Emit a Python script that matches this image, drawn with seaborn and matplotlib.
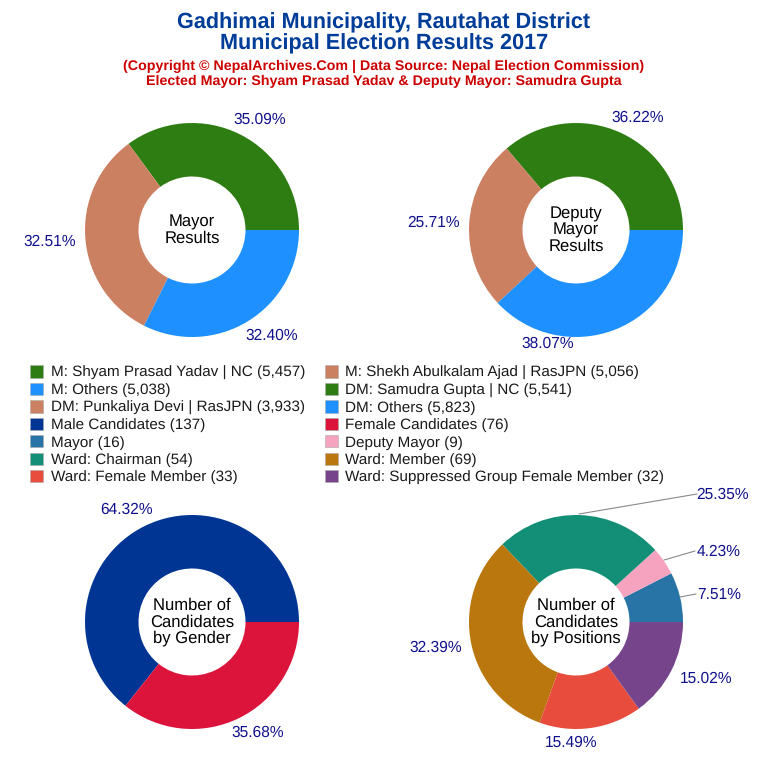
import numpy as np
import seaborn as sns
import matplotlib.pyplot as plt
from matplotlib.patches import Patch

sns.set_theme(style="white")
plt.rcParams["font.family"] = ["Liberation Sans", "DejaVu Sans"]
plt.rcParams["text.hinting"] = "no_hinting"

# values
mayor_names = ["M: Shyam Prasad Yadav | NC", "M: Shekh Abulkalam Ajad | RasJPN", "M: Others"]
mayor_votes = [5457, 5056, 5038]
deputy_names = ["DM: Samudra Gupta | NC", "DM: Punkaliya Devi | RasJPN", "DM: Others"]
deputy_votes = [5541, 3933, 5823]
gender_names = ["Male Candidates", "Female Candidates"]
gender_counts = [137, 76]
position_names = ["Mayor", "Deputy Mayor", "Ward: Chairman", "Ward: Member", "Ward: Female Member",
                  "Ward: Suppressed Group Female Member"]
position_counts = [16, 9, 54, 69, 33, 32]

# colours
vote_colors = sns.color_palette(["#2E7D12", "#CC8062", "#1E90FF"])
gender_colors = sns.color_palette(["#003594", "#DC143C"])
position_colors = sns.color_palette(["#2874A6", "#F5A3BF", "#148F77", "#B9770E", "#E74C3C", "#76448A"])

W = 768.0
CENTERS = [(192, 230), (576, 230), (192, 622), (576, 622)]
RADIUS = 107.0
PCT_COLOR = "#10108C"

# label centres relative to pie centre, in px (dx, dy down)
mayor_lab = [(68, -110), (-142, 12), (80, 106)]
deputy_lab = [(62, -112), (-142, -7), (-28, 114)]
gender_lab = [(-65, -112), (66, 111)]
position_lab = [(143, -27), (143, -70), (147, -127), (-140, 26), (-5, 121), (130, 57)]
# leader lines for the small labels, px from centre
leaders = {0: ((120, -28), (104, -25)), 1: ((119, -71), (88, -62)), 2: ((121, -128), (3, -108))}

fig = plt.figure(figsize=(W / 100, W / 100), dpi=100)
fig.patch.set_facecolor("white")


def donut(idx, values, colors, lab_pos, center_text, lines=None):
    cx, cy = CENTERS[idx]
    box = 170.0  # half size of axes in px
    ax = fig.add_axes([(cx - box) / W, 1 - (cy + box) / W, 2 * box / W, 2 * box / W])
    ax.pie(values, colors=colors, startangle=0, counterclock=True, radius=RADIUS,
           wedgeprops=dict(width=RADIUS * 0.5, linewidth=0))
    ax.set_xlim(-box, box)
    ax.set_ylim(-box, box)
    ax.set_aspect("equal")
    ax.axis("off")
    ax.patch.set_alpha(0)
    total = float(np.sum(values))
    for v, (dx, dy) in zip(values, lab_pos):
        ax.text(dx, -dy, f"{v / total * 100:.2f}%", color=PCT_COLOR, fontsize=11.2,
                ha="center", va="center", clip_on=False)
    if lines:
        for (x0, y0), (x1, y1) in lines.values():
            ax.plot([x0, x1], [-y0, -y1], color="#8a8a8a", lw=0.8, clip_on=False)
    ax.text(0, 0, center_text, color="black", fontsize=12, ha="center", va="center", linespacing=1.03)


donut(0, mayor_votes, vote_colors, mayor_lab, "Mayor\nResults")
donut(1, deputy_votes, vote_colors, deputy_lab, "Deputy\nMayor\nResults")
donut(2, gender_counts, gender_colors, gender_lab, "Number of\nCandidates\nby Gender")
donut(3, position_counts, position_colors, position_lab, "Number of\nCandidates\nby Positions", leaders)

# titles
fig.text(384 / W, 1 - 23 / W, "Gadhimai Municipality, Rautahat District", color="#003D99", fontsize=15.6,
         fontweight="bold", ha="center", va="center")
fig.text(384 / W, 1 - 44 / W, "Municipal Election Results 2017", color="#003D99", fontsize=15.6,
         fontweight="bold", ha="center", va="center")
fig.text(384 / W, 1 - 66 / W, "(Copyright © NepalArchives.Com | Data Source: Nepal Election Commission)",
         color="#CC0000", fontsize=10.3, fontweight="bold", ha="center", va="center")
fig.text(384 / W, 1 - 81 / W, "Elected Mayor: Shyam Prasad Yadav & Deputy Mayor: Samudra Gupta",
         color="#CC0000", fontsize=10.3, fontweight="bold", ha="center", va="center")

# legend goes across rows in the picture, matplotlib fills by column
names = []
vals = []
cols = []
for n, v, c in [(mayor_names, mayor_votes, vote_colors), (deputy_names, deputy_votes, vote_colors),
                (gender_names, gender_counts, gender_colors), (position_names, position_counts, position_colors)]:
    names += n
    vals += v
    cols += list(c)
handles = [Patch(facecolor=c, edgecolor="#aaaaaa", linewidth=0.4, label=f"{n} ({v:,})")
           for n, v, c in zip(names, vals, cols)]
order = list(range(0, len(handles), 2)) + list(range(1, len(handles), 2))
fig.legend(handles=[handles[i] for i in order], ncol=2, loc="upper left",
           bbox_to_anchor=(30 / W, 1 - 365.5 / W), frameon=False, fontsize=11.0,
           handlelength=0.85, handleheight=0.85, handletextpad=0.5, columnspacing=1.3,
           labelspacing=0.19, borderpad=0, borderaxespad=0, labelcolor="#1a1a1a")

fig.savefig("out.png", dpi=100, facecolor="white")
